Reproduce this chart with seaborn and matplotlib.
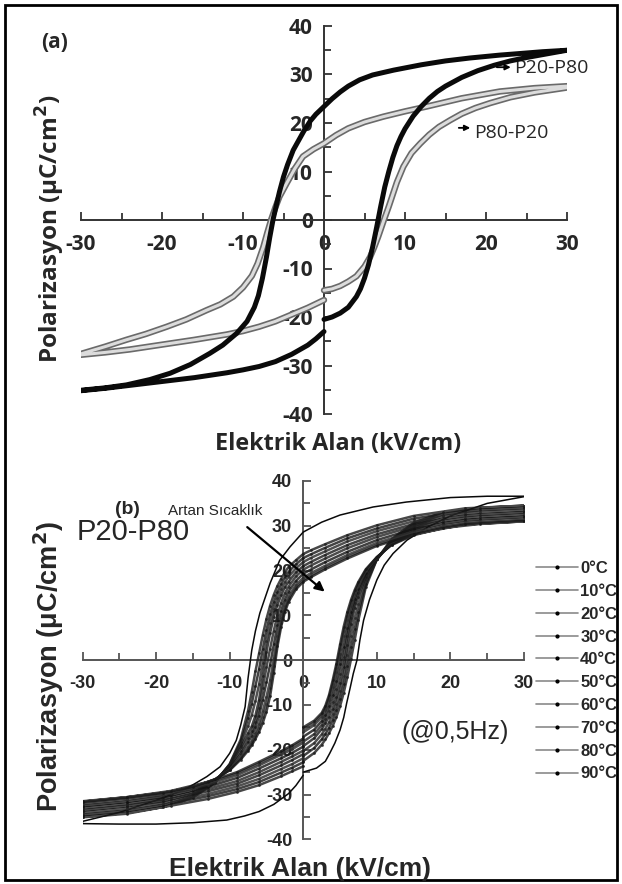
import matplotlib
matplotlib.use("Agg")
import matplotlib.pyplot as plt
import seaborn as sns
from matplotlib.lines import Line2D
from matplotlib.patches import Rectangle
from matplotlib.ticker import MultipleLocator

sns.set_style("white")
plt.rcParams["font.family"] = ["Liberation Sans", "DejaVu Sans"]
plt.rcParams["axes.unicode_minus"] = False

# ---------------- Panel (a) data ----------------
tick_vals_x = [-30, -20, -10, 0, 10, 20, 30]
tick_labels_x = ["-30", "-20", "-10", "0", "10", "20", "30"]
tick_vals_y = [-40, -30, -20, -10, 0, 10, 20, 30, 40]
tick_labels_y = ["-40", "-30", "-20", "-10", "0", "10", "20", "30", "40"]

# P20-P80 (black loop)
a_blk_start_E = [0, 1, 2, 3, 4, 4.5, 5, 5.5, 6, 6.5, 7, 7.5, 8, 8.5, 9, 9.5, 10, 11, 12, 13, 14, 15, 17, 19, 21, 23, 25, 27, 30]
a_blk_start_P = [-20.5, -20.0, -19.2, -18.0, -15.8, -14.2, -12.0, -9.2, -5.6, -1.5, 2.8, 6.8, 10.0, 12.9, 15.3, 17.2, 18.8, 21.4, 23.4, 25.1, 26.5, 27.6, 29.4, 30.8, 31.9, 32.8, 33.5, 34.1, 35.0]
a_blk_desc_E = [30, 27, 24, 21.7, 18, 15, 12, 8.6, 6, 4.4, 3, 2, 1, 0, -1, -1.7, -2.5, -3, -3.8, -4.5, -5, -5.5, -6, -6.3, -6.7, -7.1, -7.6, -8.1, -8.6, -9.5, -10.8, -12.5, -14.1, -16.5, -19, -21.5, -24.4, -27, -30]
a_blk_desc_P = [35.0, 34.7, 34.3, 34.0, 33.4, 32.8, 32.0, 30.9, 29.9, 28.9, 27.6, 26.4, 25.0, 23.4, 21.8, 20.4, 18.3, 16.8, 14.4, 11.4, 8.9, 5.8, 2.2, 0.0, -3.6, -7.6, -12.0, -15.6, -18.0, -20.9, -23.4, -25.8, -27.5, -29.8, -31.6, -32.9, -34.0, -34.6, -35.1]
a_blk_end_E = [-30, -27, -24, -20, -16, -12, -10, -8, -6, -4, -2, -1, 0]
a_blk_end_P = [-35.2, -34.7, -34.1, -33.3, -32.5, -31.5, -30.9, -30.2, -29.2, -27.7, -25.8, -24.5, -23.0]

# P80-P20 (grey loop)
a_gry_start_E = [0, 1, 2, 3, 4, 5, 5.7, 6.2, 6.7, 7.4, 8, 8.4, 9, 9.8, 10.8, 11.9, 13, 14.2, 15.6, 17, 18.7, 20.5, 23, 26, 30]
a_gry_start_P = [-14.5, -14.2, -13.6, -12.7, -11.6, -9.6, -7.6, -5.6, -3.4, 0.0, 2.8, 4.8, 7.8, 11.0, 13.8, 15.8, 17.6, 19.2, 20.6, 21.9, 23.1, 24.1, 25.3, 26.3, 27.3]
a_gry_desc_E = [30, 26, 21.7, 17, 12.7, 10, 7.3, 5, 3, 1.5, 0, -1.3, -2.6, -3.6, -4.6, -5.5, -6.0, -6.5, -7.0, -7.5, -8.2, -8.9, -10, -11.2, -12.8, -14.5, -17, -19.4, -22, -24.4, -27, -30]
a_gry_desc_P = [27.6, 27.2, 26.5, 25.1, 23.4, 22.4, 21.3, 20.2, 18.9, 17.5, 15.8, 14.6, 13.1, 10.6, 7.6, 4.8, 2.6, 0.2, -2.6, -5.6, -9.0, -11.5, -13.9, -15.8, -17.4, -18.6, -20.5, -22.0, -23.5, -24.7, -26.1, -27.6]
a_gry_end_E = [-30, -27, -24, -20, -16, -12, -10, -8, -6, -4, -2, 0]
a_gry_end_P = [-27.8, -27.3, -26.7, -25.7, -24.7, -23.6, -22.9, -22.0, -20.9, -19.5, -18.1, -16.5]

# ---------------- Panel (b) data ----------------
b_labels = ["0°C", "10°C", "20°C", "30°C", "40°C", "50°C", "60°C", "70°C", "80°C", "90°C"]

# 0 °C (outermost loop)
b0_start_E = [0, 1.8, 3, 3.6, 4.3, 5, 5.5, 5.9, 6.4, 6.8, 7.3, 7.7, 8.2, 9, 10, 11, 12.2, 14.1, 17, 20, 25, 30]
b0_start_P = [-25.0, -24.1, -22.6, -20.8, -18.5, -15.6, -12.8, -9.6, -6.0, -3.0, 0.0, 4.5, 8.9, 13.5, 17.9, 21.2, 23.8, 26.8, 29.8, 32.2, 35.0, 36.5]
b0_desc_E = [30, 25, 20, 14, 9.5, 5, 2.5, 0, -1.8, -3.2, -4.5, -5.9, -6.5, -7, -7.5, -7.9, -8.5, -9.1, -10, -11.3, -13.1, -16, -20, -25, -30]
b0_desc_P = [36.6, 36.6, 36.3, 35.3, 34.2, 32.4, 30.8, 28.6, 25.3, 22.3, 17.2, 10.5, 6.5, 2.2, -4.0, -10.4, -14.5, -17.9, -20.8, -23.8, -26.0, -28.8, -31.3, -34.0, -36.0]
b0_end_E = [-30, -25, -20, -15, -10.4, -8, -6, -4, -2, -1, 0]
b0_end_P = [-36.5, -36.6, -36.6, -36.3, -35.7, -34.8, -33.8, -32.2, -29.8, -28.0, -25.7]

# shared field values of the other nine loops
b_start_E = [0, 1.5, 2.5, 3, 3.5, 4, 4.5, 5, 5.5, 6, 6.5, 7, 7.5, 8.5, 10, 12, 15, 19, 24, 30]
b_desc_E = [30, 22, 15, 10, 6, 3, 1, 0, -1, -2, -2.5, -3, -3.5, -4, -4.5, -5, -5.5, -6, -6.5, -7, -7.5, -8.5, -10, -12, -15, -19, -24, -30]
b_end_E = [-30, -24, -18, -13, -9, -6, -3, -1.5, 0]

b10_start = [-22.5, -20.7, -18.9, -17.7, -16.3, -14.7, -12.7, -10.3, -7.3, -3.7, 0.3, 4.6, 9.0, 16.3, 22.5, 27.0, 30.7, 33.0, 34.0, 34.5]
b10_desc = [34.5, 33.9, 32.2, 30.1, 27.9, 25.9, 24.5, 23.7, 22.3, 20.8, 19.6, 18.2, 16.6, 14.6, 12.2, 9.2, 5.6, 1.5, -2.5, -7.1, -11.3, -17.7, -23.2, -27.4, -30.7, -32.8, -34.1, -35.0]
b10_end = [-35.1, -34.3, -32.5, -31.0, -29.4, -27.9, -25.9, -24.8, -23.7]

b20_start = [-21.4, -19.6, -17.7, -16.5, -15.1, -13.4, -11.2, -8.6, -5.4, -1.3, 2.9, 7.0, 10.7, 17.0, 22.5, 26.8, 30.3, 32.5, 33.5, 34.0]
b20_desc = [34.0, 33.4, 31.6, 29.4, 27.2, 25.1, 23.6, 22.8, 21.4, 19.7, 18.5, 17.0, 15.2, 13.0, 10.2, 6.7, 2.5, -2.0, -5.8, -9.7, -13.0, -18.3, -23.3, -27.3, -30.4, -32.4, -33.6, -34.5]
b20_end = [-34.6, -33.7, -32.0, -30.4, -28.8, -27.2, -25.1, -24.0, -22.8]

b30_start = [-20.3, -18.5, -16.6, -15.3, -13.9, -12.1, -9.8, -6.9, -3.5, 1.1, 5.5, 9.4, 12.5, 17.8, 22.5, 26.6, 30.0, 32.1, 33.0, 33.5]
b30_desc = [33.5, 32.9, 31.0, 28.8, 26.5, 24.3, 22.8, 21.9, 20.5, 18.6, 17.4, 15.8, 13.8, 11.4, 8.2, 4.3, -0.6, -5.4, -9.1, -12.3, -14.7, -18.9, -23.4, -27.2, -30.1, -32.0, -33.1, -34.0]
b30_end = [-34.1, -33.1, -31.5, -29.9, -28.2, -26.5, -24.3, -23.2, -21.9]

b40_start = [-19.2, -17.4, -15.4, -14.1, -12.6, -10.8, -8.3, -5.1, -1.5, 3.4, 8.1, 11.7, 14.2, 18.5, 22.5, 26.3, 29.6, 31.6, 32.5, 33.0]
b40_desc = [33.0, 32.3, 30.4, 28.1, 25.7, 23.5, 21.9, 21.0, 19.6, 17.5, 16.3, 14.5, 12.4, 9.7, 6.1, 1.8, -3.6, -8.8, -12.4, -14.8, -16.3, -19.5, -23.5, -27.0, -29.8, -31.5, -32.6, -33.5]
b40_end = [-33.6, -32.5, -31.0, -29.3, -27.6, -25.7, -23.5, -22.3, -21.0]

b50_start = [-18.2, -16.5, -14.5, -13.2, -11.4, -9.3, -6.5, -3.0, 0.8, 5.3, 9.5, 12.7, 15.1, 19.0, 22.7, 26.2, 29.2, 31.1, 32.0, 32.5]
b50_desc = [32.5, 31.8, 29.9, 27.5, 25.0, 22.7, 21.1, 20.2, 18.7, 16.4, 14.9, 12.8, 10.1, 6.6, 2.6, -1.6, -6.2, -10.6, -13.7, -15.9, -17.3, -20.2, -23.8, -26.9, -29.5, -31.1, -32.1, -33.0]
b50_end = [-33.1, -32.1, -30.6, -28.8, -27.0, -25.0, -22.7, -21.5, -20.2]

b60_start = [-17.1, -15.5, -13.6, -12.2, -10.2, -7.7, -4.6, -0.8, 3.0, 7.1, 10.8, 13.7, 15.9, 19.4, 22.8, 26.0, 28.8, 30.6, 31.5, 32.0]
b60_desc = [32.0, 31.3, 29.3, 26.8, 24.2, 21.9, 20.2, 19.3, 17.7, 15.3, 13.5, 11.0, 7.8, 3.5, -1.0, -4.9, -8.8, -12.4, -15.0, -16.9, -18.3, -20.9, -24.1, -26.8, -29.1, -30.6, -31.6, -32.5]
b60_end = [-32.6, -31.6, -30.1, -28.3, -26.3, -24.2, -21.9, -20.7, -19.3]

b70_start = [-16.1, -14.5, -12.7, -11.2, -9.0, -6.1, -2.7, 1.4, 5.3, 9.0, 12.2, 14.7, 16.7, 19.9, 22.9, 25.9, 28.4, 30.1, 31.0, 31.5]
b70_desc = [31.5, 30.8, 28.7, 26.2, 23.5, 21.1, 19.4, 18.4, 16.8, 14.2, 12.1, 9.3, 5.5, 0.4, -4.5, -8.2, -11.4, -14.2, -16.3, -18.0, -19.3, -21.6, -24.4, -26.7, -28.7, -30.1, -31.1, -32.0]
b70_end = [-32.1, -31.1, -29.7, -27.8, -25.7, -23.5, -21.1, -19.9, -18.4]

b80_start = [-15.5, -14.0, -12.2, -10.7, -8.4, -5.3, -1.7, 2.4, 6.4, 9.9, 12.8, 15.2, 17.1, 20.1, 23.0, 25.8, 28.1, 29.8, 30.7, 31.2]
b80_desc = [31.2, 30.5, 28.4, 25.8, 23.1, 20.7, 18.9, 17.9, 16.3, 13.6, 11.4, 8.4, 4.3, -1.2, -6.3, -9.9, -12.7, -15.1, -17.0, -18.5, -19.8, -21.9, -24.5, -26.6, -28.5, -29.8, -30.8, -31.7]
b80_end = [-31.8, -30.8, -29.4, -27.5, -25.3, -23.1, -20.7, -19.4, -17.9]

b90_start = [-15.0, -13.5, -11.8, -10.2, -7.8, -4.5, -0.8, 3.5, 7.5, 10.8, 13.5, 15.7, 17.5, 20.3, 23.0, 25.7, 27.9, 29.5, 30.4, 31.0]
b90_desc = [31.0, 30.3, 28.1, 25.5, 22.7, 20.3, 18.5, 17.5, 15.8, 13.0, 10.7, 7.5, 3.1, -2.8, -8.0, -11.5, -14.0, -16.0, -17.6, -19.0, -20.2, -22.2, -24.6, -26.6, -28.3, -29.6, -30.6, -31.5]
b90_end = [-31.6, -30.6, -29.2, -27.2, -25.0, -22.7, -20.3, -19.0, -17.5]

# ---------------- figure ----------------
W, H = 622, 884
fig = plt.figure(figsize=(W / 100, H / 100), dpi=100)


def fx(x):
    return x / W


def fy(y):
    return 1 - y / H


def style_axes(ax, family, tsize, pad_x, pad_y, spine_col):
    ax.set_xlim(-30, 30)
    ax.set_ylim(-40, 40)
    for s in ["top", "right"]:
        ax.spines[s].set_visible(False)
    ax.spines["left"].set_position(("data", 0))
    ax.spines["bottom"].set_position(("data", 0))
    for s in ["left", "bottom"]:
        ax.spines[s].set_color(spine_col)
        ax.spines[s].set_linewidth(1.4)
        ax.spines[s].set_zorder(1)
    ax.set_xticks(tick_vals_x)
    ax.set_yticks(tick_vals_y)
    fd = dict(family=family, weight="bold", size=tsize)
    ax.set_xticklabels(tick_labels_x, fontdict=fd)
    ax.set_yticklabels(tick_labels_y, fontdict=fd)
    ax.xaxis.set_minor_locator(MultipleLocator(5))
    ax.yaxis.set_minor_locator(MultipleLocator(5))
    ax.tick_params(axis="both", which="both", direction="in", color=spine_col, width=1.3,
                   left=True, bottom=True)
    ax.tick_params(axis="both", which="major", length=6)
    ax.tick_params(axis="both", which="minor", length=5)
    ax.tick_params(axis="x", pad=pad_x)
    ax.tick_params(axis="y", pad=pad_y)
    ax.set_xlabel("")
    ax.set_ylabel("")
    ax.patch.set_alpha(0)


# ----- panel (a) -----
axa = fig.add_axes([fx(81), fy(414), fx(567) - fx(81), fy(26) - fy(414)])
E = a_gry_start_E + a_gry_desc_E + a_gry_end_E
P = a_gry_start_P + a_gry_desc_P + a_gry_end_P
sns.lineplot(x=E, y=P, sort=False, estimator=None, ax=axa, color="#6a6a6a", lw=4.6, zorder=3)
sns.lineplot(x=E, y=P, sort=False, estimator=None, ax=axa, color="#dcdcdc", lw=2.2, zorder=3.1)
E = a_blk_start_E + a_blk_desc_E + a_blk_end_E
P = a_blk_start_P + a_blk_desc_P + a_blk_end_P
sns.lineplot(x=E, y=P, sort=False, estimator=None, ax=axa, color="#0a0a0a", lw=3.6, zorder=3.2)
style_axes(axa, "Open Sans", 15, 10, 8, "#333333")

axa.annotate("", xy=(23.4, 31.5), xytext=(21.0, 31.5),
             arrowprops=dict(arrowstyle="-|>", color="black", lw=1.3, mutation_scale=8), zorder=5)
axa.text(23.5, 31.3, "P20-P80", family="Open Sans", fontsize=14, ha="left", va="center")
axa.annotate("", xy=(18.4, 19.0), xytext=(16.3, 19.0),
             arrowprops=dict(arrowstyle="-|>", color="black", lw=1.3, mutation_scale=8), zorder=5)
axa.text(18.5, 17.9, "P80-P20", family="Open Sans", fontsize=14, ha="left", va="center")

fig.text(fx(55), fy(42), "(a)", family="Open Sans", weight="bold", fontsize=15, ha="center", va="center")
fig.text(fx(338), fy(444), "Elektrik Alan (kV/cm)", family="Open Sans", weight="bold",
         fontsize=16.8, ha="center", va="center")
fig.text(fx(50), fy(229), "Polarizasyon (μC/cm$^{\\mathbf{2}}$)", family="Open Sans", weight="bold",
         fontsize=17.5, ha="center", va="center", rotation=90)

# ----- panel (b) -----
axb = fig.add_axes([fx(82.5), fy(839.3), fx(524) - fx(82.5), fy(481) - fy(839.3)])
b_loops = [
    (b0_start_E + b0_desc_E + b0_end_E, b0_start_P + b0_desc_P + b0_end_P),
    (b_start_E + b_desc_E + b_end_E, b10_start + b10_desc + b10_end),
    (b_start_E + b_desc_E + b_end_E, b20_start + b20_desc + b20_end),
    (b_start_E + b_desc_E + b_end_E, b30_start + b30_desc + b30_end),
    (b_start_E + b_desc_E + b_end_E, b40_start + b40_desc + b40_end),
    (b_start_E + b_desc_E + b_end_E, b50_start + b50_desc + b50_end),
    (b_start_E + b_desc_E + b_end_E, b60_start + b60_desc + b60_end),
    (b_start_E + b_desc_E + b_end_E, b70_start + b70_desc + b70_end),
    (b_start_E + b_desc_E + b_end_E, b80_start + b80_desc + b80_end),
    (b_start_E + b_desc_E + b_end_E, b90_start + b90_desc + b90_end),
]
b_cols = ["#0a0a0a", "#1a1a1a", "#141414", "#262626", "#181818", "#202020", "#121212", "#2a2a2a", "#333333", "#161616"]
for i, (E, P) in enumerate(b_loops):
    if i == 0:
        sns.lineplot(x=E, y=P, sort=False, estimator=None, ax=axb, color=b_cols[i], lw=1.1, zorder=3)
    else:
        sns.lineplot(x=E, y=P, sort=False, estimator=None, ax=axb, color=b_cols[i], lw=1.8,
                     marker=".", markersize=4, markeredgewidth=0, alpha=0.8, zorder=3)
style_axes(axb, "Liberation Sans", 13, 11, 8, "#555555")

axb.annotate("", xy=(3.2, 14.9), xytext=(-7.9, 30.1),
             arrowprops=dict(arrowstyle="-|>", color="black", lw=1.6, mutation_scale=14), zorder=5)
fig.text(fx(127), fy(509), "(b)", weight="bold", fontsize=14, ha="center", va="center")
fig.text(fx(168), fy(511), "Artan Sıcaklık", fontsize=11, ha="left", va="center",
         family=["Liberation Sans Narrow", "Liberation Sans"])
fig.text(fx(77), fy(532), "P20-P80", fontsize=21, ha="left", va="center")
fig.text(fx(455), fy(732), "(@0,5Hz)", fontsize=18, ha="center", va="center")
fig.text(fx(300), fy(869), "Elektrik Alan (kV/cm)", weight="bold", fontsize=19, ha="center", va="center")
fig.text(fx(49), fy(667), "Polarizasyon (μC/cm$^{\\mathbf{2}}$)", weight="bold", fontsize=19.5,
         ha="center", va="center", rotation=90)

handles = [Line2D([0], [0], color="#8a8a8a", lw=1.2, marker=".", markersize=4,
                  markerfacecolor="black", markeredgecolor="black") for _ in b_labels]
fig.legend(handles, b_labels, loc="upper left", bbox_to_anchor=(fx(536), fy(561)),
           frameon=False, prop=dict(weight="bold", size=12), handlelength=2.5,
           handletextpad=0.15, labelspacing=0.47, borderpad=0, borderaxespad=0)

# outer frame
fig.add_artist(Rectangle((fx(5), fy(880)), fx(617) - fx(5), fy(5) - fy(880),
                         transform=fig.transFigure, fill=False, lw=2, ec="black"))

fig.savefig("out.png", dpi=100)
